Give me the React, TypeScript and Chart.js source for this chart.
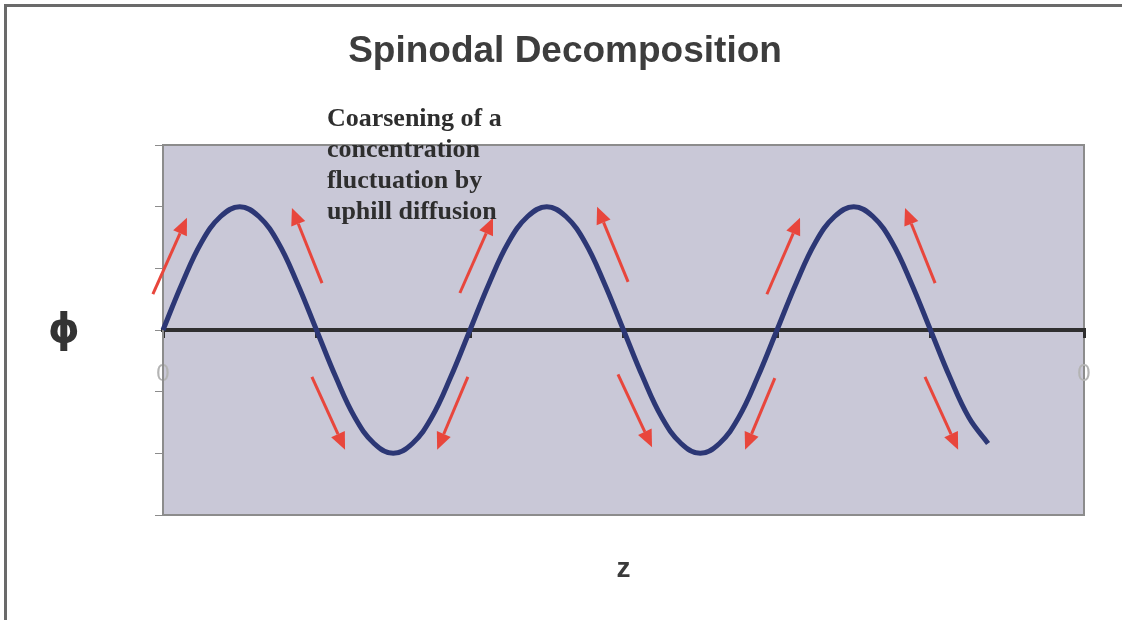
import React, { useEffect, useRef } from 'react';
import { Chart, registerables } from 'chart.js';

Chart.register(...registerables);

const chartTitle = 'Spinodal Decomposition';
const xAxisTitle = 'z';
const yAxisTitle = 'ϕ';
const noteLines = ['Coarsening of a', 'concentration', 'fluctuation by', 'uphill diffusion'];

// curve samples (z in wavelengths, phi normalised amplitude)
const zValues = [
  0, 0.0625, 0.125, 0.1875, 0.25, 0.3125, 0.375, 0.4375,
  0.5, 0.5625, 0.625, 0.6875, 0.75, 0.8125, 0.875, 0.9375,
  1, 1.0625, 1.125, 1.1875, 1.25, 1.3125, 1.375, 1.4375,
  1.5, 1.5625, 1.625, 1.6875, 1.75, 1.8125, 1.875, 1.9375,
  2, 2.0625, 2.125, 2.1875, 2.25, 2.3125, 2.375, 2.4375,
  2.5, 2.5625, 2.625, 2.6875,
];
const phiValues = [
  0, 0.38, 0.71, 0.92, 1, 0.92, 0.71, 0.38,
  0, -0.38, -0.71, -0.92, -1, -0.92, -0.71, -0.38,
  0, 0.38, 0.71, 0.92, 1, 0.92, 0.71, 0.38,
  0, -0.38, -0.71, -0.92, -1, -0.92, -0.71, -0.38,
  0, 0.38, 0.71, 0.92, 1, 0.92, 0.71, 0.38,
  0, -0.38, -0.71, -0.92,
];

const zTickLabels = ['0', '0'];

// red arrows (tail -> head), in data units
const arrowTailZ = [-0.033, 0.518, 0.485, 0.993, 0.967, 1.515, 1.482, 1.993, 1.967, 2.515, 2.482];
const arrowTailPhi = [0.29, 0.38, -0.38, -0.38, 0.3, 0.39, -0.36, -0.39, 0.29, 0.38, -0.38];
const arrowHeadZ = [0.078, 0.42, 0.593, 0.893, 1.075, 1.414, 1.593, 1.896, 2.075, 2.417, 2.59];
const arrowHeadPhi = [0.91, 0.99, -0.97, -0.97, 0.91, 1.0, -0.95, -0.97, 0.91, 0.99, -0.97];

const noteZ = 0.534;
const notePhi = 1.71;

const W = 1122;
const H = 620;

const decorPlugin = {
  id: 'decor',
  beforeDraw(chart: any) {
    const { ctx, chartArea: a } = chart;
    ctx.save();
    ctx.fillStyle = '#c9c8d7';
    ctx.fillRect(a.left, a.top, a.right - a.left, a.bottom - a.top);
    ctx.strokeStyle = '#8c8c8c';
    ctx.lineWidth = 2;
    ctx.strokeRect(a.left, a.top, a.right - a.left, a.bottom - a.top);
    ctx.restore();
  },
  afterDraw(chart: any) {
    const { ctx } = chart;
    const xs = chart.scales.x;
    const ys = chart.scales.y;
    ctx.save();
    // arrows
    ctx.strokeStyle = '#e8463c';
    ctx.fillStyle = '#e8463c';
    ctx.lineWidth = 3;
    for (let i = 0; i < arrowTailZ.length; i++) {
      const x1 = xs.getPixelForValue(arrowTailZ[i]);
      const y1 = ys.getPixelForValue(arrowTailPhi[i]);
      const x2 = xs.getPixelForValue(arrowHeadZ[i]);
      const y2 = ys.getPixelForValue(arrowHeadPhi[i]);
      const ang = Math.atan2(y2 - y1, x2 - x1);
      const hl = 17;
      const hw = 7.5;
      const bx = x2 - hl * Math.cos(ang);
      const by = y2 - hl * Math.sin(ang);
      ctx.beginPath();
      ctx.moveTo(x1, y1);
      ctx.lineTo(bx, by);
      ctx.stroke();
      ctx.beginPath();
      ctx.moveTo(x2, y2);
      ctx.lineTo(bx + hw * Math.sin(ang), by - hw * Math.cos(ang));
      ctx.lineTo(bx - hw * Math.sin(ang), by + hw * Math.cos(ang));
      ctx.closePath();
      ctx.fill();
    }
    // annotation text
    ctx.fillStyle = '#2e2e2e';
    ctx.font = 'bold 26px "Liberation Serif", "Times New Roman", serif';
    ctx.textBaseline = 'middle';
    ctx.textAlign = 'left';
    const nx = xs.getPixelForValue(noteZ);
    const ny = ys.getPixelForValue(notePhi);
    noteLines.forEach((t, i) => ctx.fillText(t, nx, ny + i * 31));
    // phi label (horizontal)
    ctx.fillStyle = '#333333';
    ctx.font = 'bold 40px "DejaVu Sans", sans-serif';
    ctx.textAlign = 'center';
    ctx.fillText(yAxisTitle, 64, ys.getPixelForValue(0) + 2);
    ctx.restore();
  },
};

export default function App() {
  const ref = useRef<HTMLCanvasElement>(null);
  useEffect(() => {
    if (!ref.current) return;
    const chart = new Chart(ref.current, {
      type: 'line',
      data: {
        datasets: [
          {
            data: zValues.map((z, i) => ({ x: z, y: phiValues[i] })),
            borderColor: '#2c3775',
            borderWidth: 5,
            pointRadius: 0,
            tension: 0.4,
            fill: false,
            clip: 10,
          },
        ],
      },
      options: {
        animation: false,
        responsive: false,
        devicePixelRatio: 1,
        layout: { padding: { left: 8, right: 0, top: 30, bottom: 0 } },
        plugins: {
          legend: { display: false },
          tooltip: { enabled: false },
          title: {
            display: true,
            text: chartTitle,
            color: '#3d3d3d',
            font: { family: '"Liberation Sans", Arial, sans-serif', size: 37, weight: 'bold' },
            padding: { top: 0, bottom: 70.6 },
          },
        },
        scales: {
          x: {
            type: 'linear',
            position: { y: 0 } as any,
            min: 0,
            max: 3,
            border: { display: true, color: '#2f2f2f', width: 4 },
            grid: { drawOnChartArea: false, drawTicks: true, tickLength: 6, color: '#2f2f2f', lineWidth: 3 },
            ticks: {
              stepSize: 0.5,
              autoSkip: false,
              maxRotation: 0,
              padding: 24,
              color: '#b4b4b4',
              font: { family: '"Liberation Sans", Arial, sans-serif', size: 24 },
              callback: (_v: any, i: number, ticks: any[]) =>
                i === 0 ? zTickLabels[0] : i === ticks.length - 1 ? zTickLabels[1] : '',
            },
          },
          x2: {
            type: 'linear',
            position: 'bottom',
            min: 0,
            max: 3,
            border: { display: false },
            grid: { display: false },
            ticks: { display: false },
            title: {
              display: true,
              text: xAxisTitle,
              color: '#3a3a3a',
              font: { family: '"Liberation Sans", Arial, sans-serif', size: 28, weight: 'bold' },
              padding: { top: 0, bottom: 34 },
            },
            afterFit: (s: any) => {
              s.height = 105;
            },
          },
          y: {
            type: 'linear',
            position: 'left',
            min: -1.5,
            max: 1.5,
            border: { display: true, color: '#8c8c8c', width: 2 },
            grid: { drawOnChartArea: false, drawTicks: true, tickLength: 8, color: '#8c8c8c', lineWidth: 1 },
            ticks: { stepSize: 0.5, callback: () => '' },
            afterFit: (s: any) => {
              s.width = 155;
            },
          },
          y2: {
            type: 'linear',
            position: 'right',
            min: -1.5,
            max: 1.5,
            border: { display: false },
            grid: { display: false },
            ticks: { display: false },
            afterFit: (s: any) => {
              s.width = 38;
            },
          },
        },
      },
      plugins: [decorPlugin],
    } as any);
    return () => chart.destroy();
  }, []);

  return (
    <div style={{ position: 'fixed', left: 0, top: 0, width: W, height: H, background: '#ffffff' }}>
      <canvas ref={ref} width={W} height={H} style={{ display: 'block' }} />
      <div
        style={{
          position: 'absolute',
          left: 4,
          top: 4,
          right: 0,
          bottom: 0,
          borderLeft: '3px solid #6a6a6a',
          borderTop: '3px solid #6a6a6a',
          pointerEvents: 'none',
        }}
      />
    </div>
  );
}
